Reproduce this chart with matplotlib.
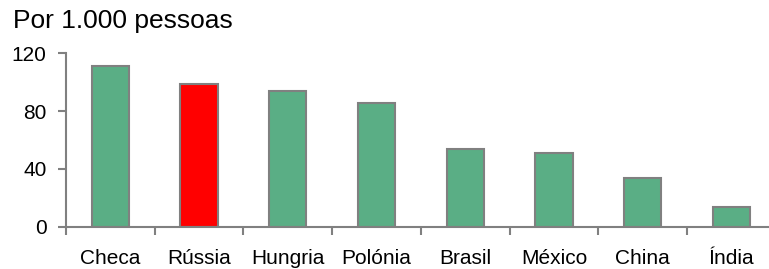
import matplotlib
matplotlib.use("Agg")
import matplotlib.pyplot as plt
import numpy as np

categories = ["Checa", "Rússia", "Hungria", "Polónia", "Brasil", "México", "China", "Índia"]
values = [111, 98.5, 94, 85.5, 54, 51, 34, 14]
yticks = [0, 40, 80, 120]
highlight = "Rússia"

plt.rcParams['font.family'] = ['Liberation Sans', 'DejaVu Sans']

fig = plt.figure(figsize=(7.69, 2.69), dpi=100)
ax = fig.add_axes([66/769, 42/269, 709.7/769, 174/269])

x = np.arange(len(categories))
colors = ["#FF0000" if c == highlight else "#5AAE85" for c in categories]
ax.bar(x, values, width=0.42, color=colors, edgecolor="#808080", linewidth=1.5, zorder=2)

ax.set_xlim(-0.5, len(categories) - 0.5)
ax.set_ylim(0, 120)
ax.set_yticks(yticks)
ax.set_yticklabels([str(t) for t in yticks], fontsize=15)

ax.set_xticks(np.arange(len(categories) + 1) - 0.5)
ax.set_xticklabels([])
ax.set_xticks(x, minor=True)
ax.set_xticklabels(categories, minor=True, fontsize=15)
ax.tick_params(axis='x', which='minor', length=0, pad=16)
ax.tick_params(axis='x', which='major', length=6, width=1.5, color="#808080", direction='out')
ax.tick_params(axis='y', length=6, width=1.5, color="#808080", direction='out', pad=8)

for s in ["top", "right"]:
    ax.spines[s].set_visible(False)
for s in ["left", "bottom"]:
    ax.spines[s].set_color("#808080")
    ax.spines[s].set_linewidth(1.5)

fig.text(13/769, 1 - 28/269, "Por 1.000 pessoas", fontsize=19, ha='left', va='baseline')

fig.savefig("out.png", dpi=100)
